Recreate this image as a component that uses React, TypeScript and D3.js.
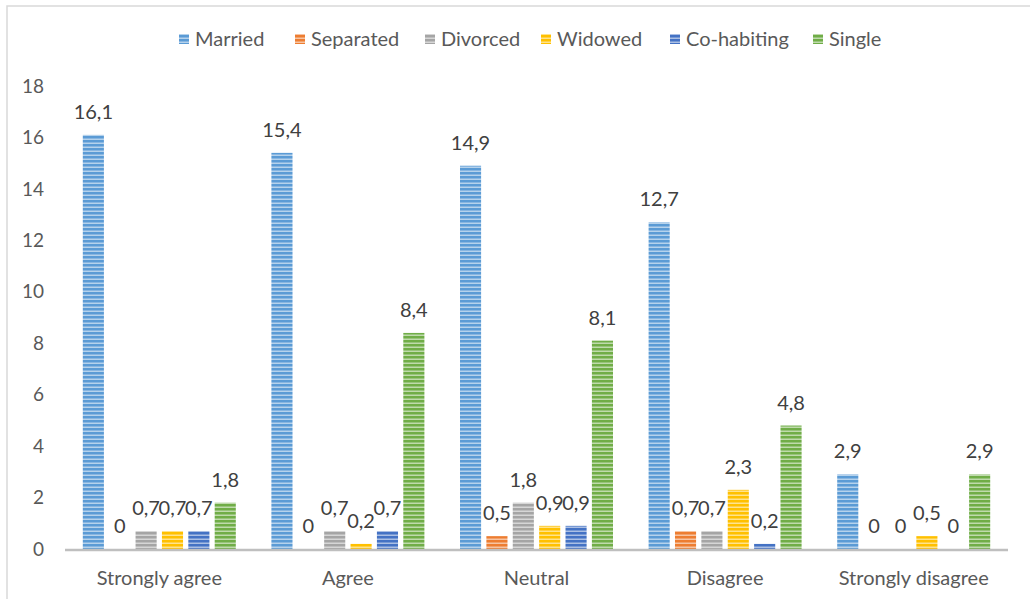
import React from "react";
import * as d3 from "d3";

const categories = ["Strongly agree", "Agree", "Neutral", "Disagree", "Strongly disagree"];
const seriesNames = ["Married", "Separated", "Divorced", "Widowed", "Co-habiting", "Single"];
const seriesColors = ["#5b9bd5", "#ed7d31", "#a5a5a5", "#ffc000", "#4472c4", "#70ad47"];
const married = [16.1, 15.4, 14.9, 12.7, 2.9];
const separated = [0, 0, 0.5, 0.7, 0];
const divorced = [0.7, 0.7, 1.8, 0.7, 0];
const widowed = [0.7, 0.2, 0.9, 2.3, 0.5];
const cohabiting = [0.7, 0.7, 0.9, 0.2, 0];
const single = [1.8, 8.4, 8.1, 4.8, 2.9];
const yTicks = [0, 2, 4, 6, 8, 10, 12, 14, 16, 18];

const seriesValues = [married, separated, divorced, widowed, cohabiting, single];

const W = 1030;
const H = 599;
const FONT = "Lato, 'Open Sans', sans-serif";

export default function App() {
  const x0 = d3.scaleBand<string>().domain(categories).range([65, 1008]).paddingInner(0).paddingOuter(0);
  const g = x0.bandwidth();
  const inner = 153;
  const x1 = d3
    .scaleBand<string>()
    .domain(seriesNames)
    .range([(g - inner) / 2, (g + inner) / 2])
    .paddingInner(0.2)
    .paddingOuter(0);
  const y = d3.scaleLinear().domain([0, 18]).range([549, 86]);
  const fmt = (v: number) => String(v).replace(".", ",");

  // legend swatch positions
  const legendX = [179, 295, 425, 541, 670, 813];

  return (
    <svg width={W} height={H} style={{ position: "absolute", left: 0, top: 0, background: "#fff" }}>
      <defs>
        {seriesColors.map((c, i) => (
          <pattern key={i} id={`stripe${i}`} width={8} height={4} patternUnits="userSpaceOnUse">
            <rect width={8} height={4} fill={c} />
            <rect y={2.5} width={8} height={1.5} fill="#fff" opacity={0.55} />
          </pattern>
        ))}
      </defs>
      <rect x={7} y={6} width={1040} height={620} fill="#fff" stroke="#d9d9d9" strokeWidth={1.5} />

      {/* legend */}
      {seriesNames.map((s, i) => (
        <g key={s} transform={`translate(${legendX[i]},39)`}>
          <rect x={0} y={-5} width={10} height={10} fill={`url(#stripe${i})`} />
          <text x={16} y={0} dy="0.35em" fontSize={20} fill="#595959" fontFamily={FONT}>
            {s}
          </text>
        </g>
      ))}

      {/* y axis labels */}
      {yTicks.map((t) => (
        <text key={t} x={44} y={y(t)} dy="0.35em" textAnchor="end" fontSize={19} fill="#595959" fontFamily={FONT}>
          {t}
        </text>
      ))}

      {/* bars */}
      {categories.map((c, ci) => (
        <g key={c} transform={`translate(${x0(c)},0)`}>
          {seriesNames.map((s, si) => {
            const v = seriesValues[si][ci];
            const bx = x1(s)!;
            const top = y(v);
            return (
              <g key={s}>
                {v > 0 && (
                  <rect x={bx} y={top} width={x1.bandwidth()} height={y(0) - top} fill={`url(#stripe${si})`} />
                )}
                <text
                  x={bx + x1.bandwidth() / 2}
                  y={top - 16}
                  textAnchor="middle"
                  fontSize={20}
                  fill="#404040"
                  fontFamily={FONT}
                >
                  {fmt(v)}
                </text>
              </g>
            );
          })}
          <text x={g / 2} y={578} dy="0.35em" textAnchor="middle" fontSize={20} fill="#595959" fontFamily={FONT}>
            {c}
          </text>
        </g>
      ))}

      {/* baseline */}
      <line x1={65} x2={1008} y1={y(0) + 1} y2={y(0) + 1} stroke="#bfbfbf" strokeWidth={2.5} />
    </svg>
  );
}
